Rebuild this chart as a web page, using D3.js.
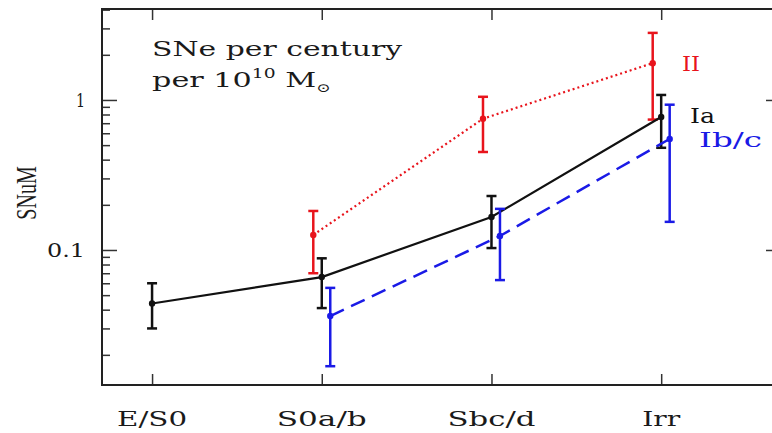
<!DOCTYPE html>
<html lang="en">
<head>
<meta charset="UTF-8">
<title>SNe rates by Hubble type</title>
<script src="https://cdn.jsdelivr.net/npm/d3@7"></script>
<style>
    body { margin: 0; background: #fff; }
    text { font-family: "DejaVu Serif", serif; fill: #1a1a1a; }
</style>
</head>
<body>
<div id="container"></div>
<script>
// categories (Hubble type)
var categories = ["E/S0", "S0a/b", "Sbc/d", "Irr"];
var categoryWidths = [70, 90, 88, 38];   // rendered label widths

// SNuM values with error bar limits (null = no measurement)
var iaValues = [0.044, 0.066, 0.166, 0.77];
var iaLow    = [0.030, 0.041, 0.103, 0.48];
var iaHigh   = [0.060, 0.088, 0.229, 1.08];

var iiValues = [null, 0.126, 0.75, 1.76];
var iiLow    = [null, 0.070, 0.45, 0.74];
var iiHigh   = [null, 0.182, 1.05, 2.8];

var ibcValues = [null, 0.0363, 0.124, 0.55];
var ibcLow    = [null, 0.0168, 0.063, 0.154];
var ibcHigh   = [null, 0.0559, 0.188, 0.93];

var yMajor = [0.1, 1];
var yMajorLabels = ["0.1", "1"];
var yMajorWidths = [38, 9];

var width = 772, height = 433;
var margin = { top: 9, right: -9, bottom: 48, left: 102 };
var innerW = width - margin.left - margin.right;
var innerH = height - margin.top - margin.bottom;

// the original figure is stretched horizontally
var SX = 1.44;

var svg = d3.select("#container").append("svg")
    .attr("width", width)
    .attr("height", height);

var g = svg.append("g")
    .attr("transform", "translate(" + margin.left + "," + margin.top + ")");

// scales: x is category index (with small offsets per series), y is log
var xScale = d3.scaleLinear().domain([-0.295, 3.706]).range([0, innerW]);
var yScale = d3.scaleLog().domain([0.01259, 4.04]).range([innerH, 0]);

// minor ticks 2..9 per decade
var minorTicks = [];
[0.01, 0.1, 1].forEach(function (dec) {
    for (var k = 2; k <= 9; k++) {
        var v = dec * k;
        if (v >= yScale.domain()[0] && v <= yScale.domain()[1]) minorTicks.push(v);
    }
});

// left axis (ticks inward)
g.append("g").call(d3.axisRight(yScale).tickValues(minorTicks).tickSize(8).tickFormat(""))
    .call(a => a.select(".domain").remove());
g.append("g").call(d3.axisRight(yScale).tickValues(yMajor).tickSize(15).tickFormat(""))
    .call(a => a.select(".domain").remove());

// right axis (ticks inward)
g.append("g").attr("transform", "translate(" + innerW + ",0)")
    .call(d3.axisLeft(yScale).tickValues(minorTicks).tickSize(8).tickFormat(""))
    .call(a => a.select(".domain").remove());
g.append("g").attr("transform", "translate(" + innerW + ",0)")
    .call(d3.axisLeft(yScale).tickValues(yMajor).tickSize(15).tickFormat(""))
    .call(a => a.select(".domain").remove());

// bottom and top axes (ticks inward at categories)
g.append("g").attr("transform", "translate(0," + innerH + ")")
    .call(d3.axisTop(xScale).tickValues([0, 1, 2, 3]).tickSize(11).tickFormat(""))
    .call(a => a.select(".domain").remove());
g.append("g")
    .call(d3.axisBottom(xScale).tickValues([0, 1, 2, 3]).tickSize(11).tickFormat(""))
    .call(a => a.select(".domain").remove());

g.selectAll(".tick line").attr("stroke", "#333").attr("stroke-width", 1.5);

// frame
g.append("rect")
    .attr("x", 0).attr("y", 0)
    .attr("width", innerW).attr("height", innerH)
    .attr("fill", "none")
    .attr("stroke", "#222")
    .attr("stroke-width", 2);

// y tick labels
g.selectAll(".ylab")
    .data(yMajor)
    .enter().append("text")
    .attr("class", "ylab")
    .attr("x", -17)
    .attr("y", d => yScale(d) + 7)
    .attr("text-anchor", "end")
    .attr("font-size", 18)
    .attr("textLength", (d, i) => yMajorWidths[i])
    .attr("lengthAdjust", "spacingAndGlyphs")
    .text((d, i) => yMajorLabels[i]);

// x category labels
g.selectAll(".xlab")
    .data(categories)
    .enter().append("text")
    .attr("class", "xlab")
    .attr("x", (d, i) => xScale(i))
    .attr("y", innerH + 41)
    .attr("text-anchor", "middle")
    .attr("font-size", 20)
    .attr("textLength", (d, i) => categoryWidths[i])
    .attr("lengthAdjust", "spacingAndGlyphs")
    .text(d => d);

// y axis title (rotated, glyphs widened like the rest)
svg.append("g")
    .attr("transform", "translate(36,193) scale(" + SX + ",1)")
    .append("text")
    .attr("transform", "rotate(-90)")
    .attr("text-anchor", "middle")
    .style("font-family", "'Liberation Serif', serif")
    .attr("font-size", 20)
    .text("SNuM");

// units note
g.append("text")
    .attr("x", xScale(0))
    .attr("y", 47)
    .attr("font-size", 21)
    .attr("textLength", 250)
    .attr("lengthAdjust", "spacingAndGlyphs")
    .text("SNe per century");

var note2 = g.append("g")
    .attr("transform", "translate(" + xScale(0) + ",78) scale(" + SX + ",1)")
    .append("text")
    .attr("font-size", 21);
note2.append("tspan").text("per 10");
note2.append("tspan").attr("dy", -9).attr("font-size", 13).text("10");
note2.append("tspan").attr("dy", 9).text(" M");
note2.append("tspan").attr("dy", 5).attr("font-size", 12).text("\u2299");

// series definitions
var series = [
    { name: "II",   color: "#e8141c", offset: -0.05, vals: iiValues,  lo: iiLow,  hi: iiHigh,  dash: "2,3",  lw: 2.2, lab: { dx: 0.123, v: 1.76, dy: 8, w: 18 } },
    { name: "Ia",   color: "#111111", offset: 0,     vals: iaValues,  lo: iaLow,  hi: iaHigh,  dash: null,   lw: 2.2, lab: { dx: 0.17,  v: 0.77, dy: 6, w: 25 } },
    { name: "Ib/c", color: "#1a1ae6", offset: 0.05,  vals: ibcValues, lo: ibcLow, hi: ibcHigh, dash: "15,8", lw: 2.5, lab: { dx: 0.223, v: 0.55, dy: 8, w: 63 } }
];

series.forEach(function (s) {
    var pts = s.vals.map((v, i) => ({ i: i, v: v, lo: s.lo[i], hi: s.hi[i] })).filter(d => d.v != null);

    var line = d3.line()
        .x(d => xScale(d.i + s.offset))
        .y(d => yScale(d.v));

    g.append("path")
        .datum(pts)
        .attr("d", line)
        .attr("fill", "none")
        .attr("stroke", s.color)
        .attr("stroke-width", s.lw)
        .attr("stroke-dasharray", s.dash);

    var eb = g.append("g");
    eb.selectAll("line.v").data(pts).enter().append("line")
        .attr("x1", d => xScale(d.i + s.offset)).attr("x2", d => xScale(d.i + s.offset))
        .attr("y1", d => yScale(d.lo)).attr("y2", d => yScale(d.hi))
        .attr("stroke", s.color).attr("stroke-width", 2.5);
    eb.selectAll("line.t").data(pts).enter().append("line")
        .attr("x1", d => xScale(d.i + s.offset) - 5).attr("x2", d => xScale(d.i + s.offset) + 5)
        .attr("y1", d => yScale(d.hi)).attr("y2", d => yScale(d.hi))
        .attr("stroke", s.color).attr("stroke-width", 2.5);
    eb.selectAll("line.b").data(pts).enter().append("line")
        .attr("x1", d => xScale(d.i + s.offset) - 5).attr("x2", d => xScale(d.i + s.offset) + 5)
        .attr("y1", d => yScale(d.lo)).attr("y2", d => yScale(d.lo))
        .attr("stroke", s.color).attr("stroke-width", 2.5);
    eb.selectAll("circle").data(pts).enter().append("circle")
        .attr("cx", d => xScale(d.i + s.offset))
        .attr("cy", d => yScale(d.v))
        .attr("r", 3.2)
        .attr("fill", s.color);

    // series label
    g.append("text")
        .attr("x", xScale(3 + s.lab.dx))
        .attr("y", yScale(s.lab.v) + s.lab.dy)
        .attr("font-size", 20)
        .attr("textLength", s.lab.w)
        .attr("lengthAdjust", "spacingAndGlyphs")
        .style("fill", s.color)
        .text(s.name);
});
</script>
</body>
</html>
